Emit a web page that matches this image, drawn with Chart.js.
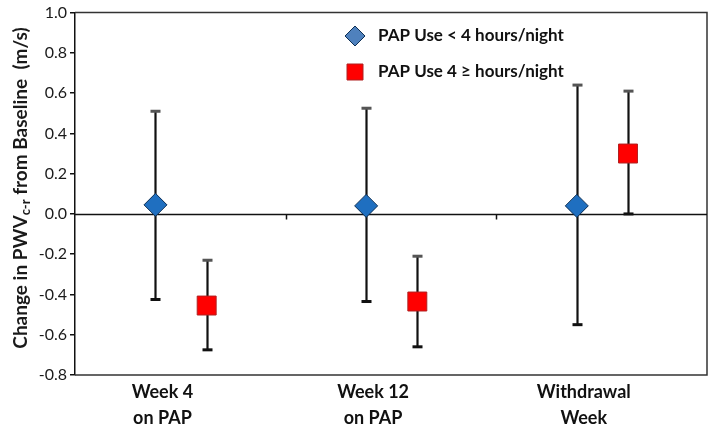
<!DOCTYPE html>
<html>
<head>
<meta charset="utf-8">
<script src="https://cdn.jsdelivr.net/npm/chart.js@4/dist/chart.umd.min.js"></script>
<style>
  html, body { margin: 0; padding: 0; background: #fff; }
  #wrap { width: 709px; height: 431px; }
</style>
</head>
<body>
<div id="wrap"><canvas id="c" width="709" height="431"></canvas></div>
<script>
// ---- data ----
const categories = [["Week 4", "on PAP"], ["Week 12", "on PAP"], ["Withdrawal", "Week"]];
const seriesLabels = ["PAP Use < 4 hours/night", "PAP Use 4 \u2265 hours/night"];
const lowMean  = [0.045, 0.04, 0.04];
const lowUpper = [0.51, 0.525, 0.64];
const lowLower = [-0.425, -0.435, -0.55];
const highMean  = [-0.455, -0.435, 0.30];
const highUpper = [-0.23, -0.21, 0.61];
const highLower = [-0.675, -0.66, 0.0];
const yTicks = [-0.8, -0.6, -0.4, -0.2, 0.0, 0.2, 0.4, 0.6, 0.8, 1.0];
const yTitleMain = "Change in PWV";
const yTitleSub = "c-r";
const yTitleRest = " from Baseline  (m/s)";

const FONT = "Lato, 'Open Sans', 'DejaVu Sans', sans-serif";
const LOW_OFF = -0.118, HIGH_OFF = 0.125, LABEL_OFF = -0.085;

function pts(mean, off) { return mean.map((v, i) => ({ x: i + off, y: v })); }

const errorBars = {
  id: 'errorBars',
  beforeDatasetsDraw(chart) {
    const ctx = chart.ctx, xs = chart.scales.xl, ys = chart.scales.y;
    const sets = [[lowUpper, lowLower, LOW_OFF], [highUpper, highLower, HIGH_OFF]];
    ctx.save();
    sets.forEach(([up, lo, off]) => {
      up.forEach((u, i) => {
        const px = Math.round(xs.getPixelForValue(i + off)) + 0.5;
        const pu = ys.getPixelForValue(u), pl = ys.getPixelForValue(lo[i]);
        ctx.strokeStyle = '#111'; ctx.lineWidth = 2.2;
        ctx.beginPath(); ctx.moveTo(px, pu); ctx.lineTo(px, pl); ctx.stroke();
        ctx.fillStyle = '#555';
        ctx.fillRect(px - 5, pu - 1.5, 10, 3);
        ctx.fillStyle = '#111';
        ctx.fillRect(px - 5, pl - 1.5, 10, 3);
      });
    });
    ctx.restore();
  }
};

const frame = {
  id: 'frame',
  beforeDatasetsDraw(chart) {
    const ctx = chart.ctx, a = chart.chartArea, ys = chart.scales.y, xs = chart.scales.xl;
    ctx.save();
    ctx.strokeStyle = '#333'; ctx.lineWidth = 1.5;
    ctx.beginPath();
    ctx.moveTo(a.left, a.top); ctx.lineTo(a.right, a.top); ctx.lineTo(a.right, a.bottom); ctx.lineTo(a.left, a.bottom);
    ctx.stroke();
    const z = Math.round(ys.getPixelForValue(0)) + 0.5;
    ctx.strokeStyle = '#111'; ctx.lineWidth = 1.5;
    ctx.beginPath(); ctx.moveTo(a.left, z); ctx.lineTo(a.right, z); ctx.stroke();
    for (let i = 1; i < categories.length; i++) {
      const bx = Math.round(xs.getPixelForValue(i - 0.5)) + 0.5;
      ctx.beginPath(); ctx.moveTo(bx, z); ctx.lineTo(bx, z + 5); ctx.stroke();
    }
    ctx.restore();
  },
  afterDraw(chart) {
    const ctx = chart.ctx, xs = chart.scales.xl, a = chart.chartArea;
    // x category labels
    ctx.save();
    ctx.fillStyle = '#111'; ctx.font = "bold 18px " + FONT; ctx.textAlign = 'center'; ctx.textBaseline = 'middle';
    categories.forEach((lines, i) => {
      const px = xs.getPixelForValue(i + LABEL_OFF);
      lines.forEach((t, k) => ctx.fillText(t, px, a.bottom + 17 + k * 26));
    });
    ctx.restore();
    // y-axis title with subscript
    ctx.save();
    ctx.translate(21, 188);
    ctx.rotate(-Math.PI / 2);
    const fMain = "bold 19px " + FONT, fSub = "bold 13px " + FONT;
    ctx.font = fMain; const w1 = ctx.measureText(yTitleMain).width, w3 = ctx.measureText(yTitleRest).width;
    ctx.font = fSub; const w2 = ctx.measureText(yTitleSub).width;
    const tot = w1 + w2 + w3;
    let x = -tot / 2;
    ctx.fillStyle = '#1a1a1a'; ctx.textBaseline = 'middle'; ctx.textAlign = 'left';
    ctx.font = fMain; ctx.fillText(yTitleMain, x, 0); x += w1;
    ctx.font = fSub; ctx.fillText(yTitleSub, x, 5); x += w2;
    ctx.font = fMain; ctx.fillText(yTitleRest, x, 0);
    ctx.restore();
    // legend
    ctx.save();
    const ds = chart.data.datasets;
    const rows = [36, 72];
    ds.forEach((d, i) => {
      const cx = 355, cy = rows[i];
      ctx.fillStyle = d.legendColor; ctx.strokeStyle = d.pointBorderColor; ctx.lineWidth = 1;
      ctx.beginPath();
      if (i === 0) {
        ctx.moveTo(cx - 10, cy); ctx.lineTo(cx, cy - 10); ctx.lineTo(cx + 10, cy); ctx.lineTo(cx, cy + 10); ctx.closePath();
      } else {
        ctx.rect(cx - 8, cy - 8, 16, 16);
      }
      ctx.fill(); ctx.stroke();
      ctx.fillStyle = '#111'; ctx.font = "bold 17px " + FONT; ctx.textBaseline = 'middle'; ctx.textAlign = 'left';
      ctx.fillText(d.label, 378, cy);
    });
    ctx.restore();
  }
};

new Chart(document.getElementById('c'), {
  type: 'scatter',
  data: {
    labels: categories,
    datasets: [
      { label: seriesLabels[0], data: pts(lowMean, LOW_OFF), xAxisID: 'xl', pointStyle: 'rectRot', pointRadius: 11.5,
        backgroundColor: '#1f6fc0', pointBorderColor: '#0d2f55', borderColor: '#0d2f55', pointBorderWidth: 1, legendColor: '#4f81bd' },
      { label: seriesLabels[1], data: pts(highMean, HIGH_OFF), xAxisID: 'xl', pointStyle: 'rect', pointRadius: 13.4,
        backgroundColor: '#ff0000', pointBorderColor: '#b02020', borderColor: '#b02020', pointBorderWidth: 1, legendColor: '#ff0000' }
    ]
  },
  options: {
    responsive: false, animation: false, devicePixelRatio: 1,
    layout: { autoPadding: false, padding: { top: 6, right: 2, bottom: 0, left: 0 } },
    plugins: { legend: { display: false }, tooltip: { enabled: false } },
    scales: {
      xl: { type: 'linear', position: 'bottom', min: -0.5, max: 2.5,
        grid: { display: false, drawTicks: false }, border: { display: false },
        ticks: { display: false },
        afterFit(s) { s.height = 56; } },
      y: { type: 'linear', min: -0.8, max: 1.0,
        afterBuildTicks(s) { s.ticks = yTicks.map(v => ({ value: v })); },
        grid: { drawOnChartArea: false, tickLength: 5, color: '#111', lineWidth: 1.5 },
        border: { display: true, color: '#111', width: 1.5 },
        ticks: { color: '#1a1a1a', font: { family: FONT, size: 16 }, padding: 3, callback: v => v.toFixed(1) },
        afterFit(s) { s.width = 75; } }
    }
  },
  plugins: [frame, errorBars]
});
</script>
</body>
</html>
